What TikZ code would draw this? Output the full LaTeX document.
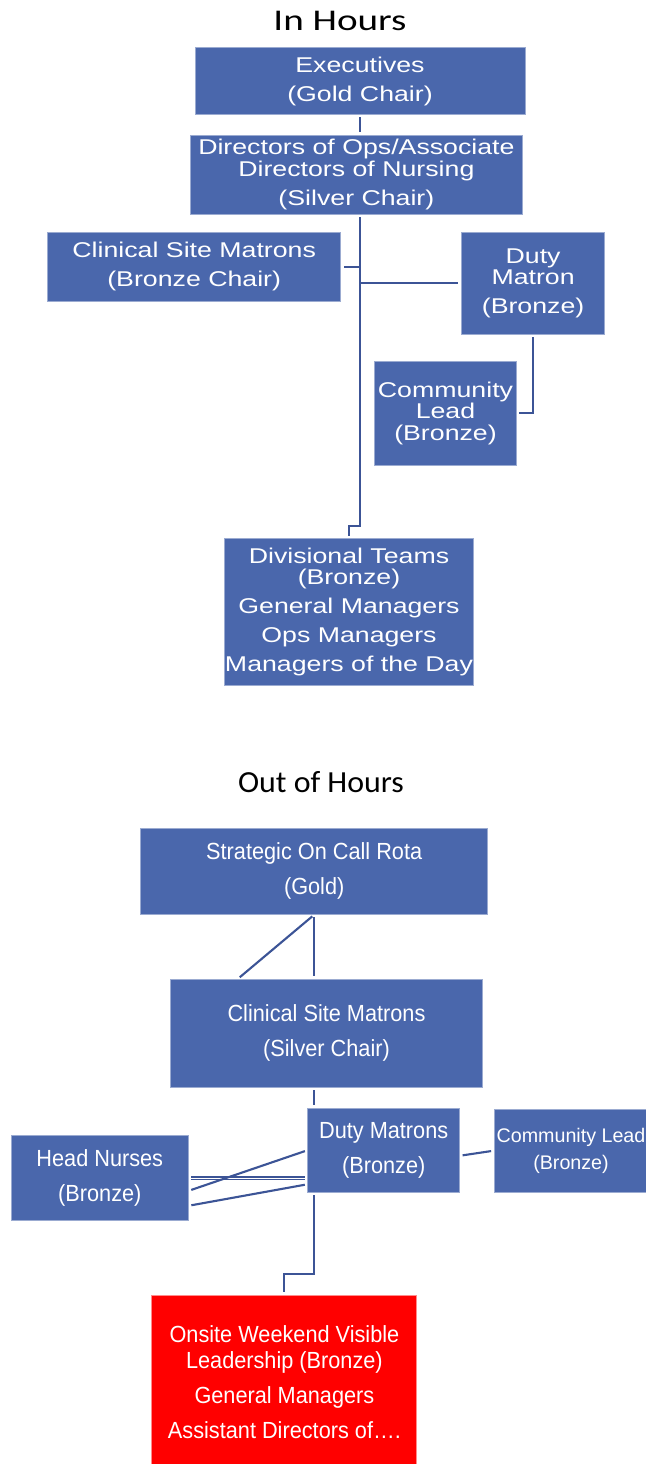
\documentclass[tikz,border=0pt]{standalone}
\usepackage{fontspec}
\setmainfont{Liberation Sans}
\newfontfamily\widefont{Liberation Sans}[FakeStretch=1.25]
\newfontfamily\narrowfont{Liberation Sans}[FakeStretch=0.93]
\newfontfamily\titlefont{Carlito}[FakeStretch=1.04]
\newfontfamily\widetitlefont{Carlito}[FakeStretch=1.3]

\definecolor{boxblue}{RGB}{74,103,172}
\definecolor{linkblue}{RGB}{60,84,150}
\definecolor{alertred}{RGB}{255,0,0}

\newlength\px
\setlength\px{0.025cm}

\tikzset{
  unit/.style={rectangle, fill=boxblue, draw=boxblue!55!white, line width=0.6pt,
    text=white, align=center, inner sep=0pt},
  dayunit/.style={unit, font=\widefont\fontsize{15.2}{15.3}\selectfont},
  nightunit/.style={unit, font=\narrowfont\fontsize{16.6}{18.5}\selectfont},
  link/.style={draw=linkblue, line width=1.5pt},
  gap/.style={shorten <=2.5\px, shorten >=2.5\px},
}

\begin{document}
\begin{tikzpicture}[x=0.025cm, y=-0.025cm]
    \useasboundingbox (0,0) rectangle (645,1464);

    % in hours
    \node[anchor=base, font=\widetitlefont\fontsize{21.4}{21.4}\selectfont] (inhours) at (340,30.7) {In Hours};
    \node[dayunit, minimum width=330\px, minimum height=66.7\px] (exec) at (360,81) {Executives\\[5.3pt](Gold Chair)};
    \node[dayunit, minimum width=331.7\px, minimum height=79.3\px] (dirops) at (356.4,174.7) {Directors of Ops/Associate\\Directors of Nursing\\[5.3pt](Silver Chair)};
    \node[dayunit, minimum width=293\px, minimum height=68.3\px] (sitemat) at (194.2,266.8) {Clinical Site Matrons\\[5.3pt](Bronze Chair)};
    \node[dayunit, minimum width=142.8\px, minimum height=101.7\px] (dutymat) at (533.1,283.5) {Duty\\Matron\\[5.3pt](Bronze)};
    \node[dayunit, minimum width=142\px, minimum height=104.3\px] (commlead) at (445.5,413.2) {Community\\Lead\\(Bronze)};
    \node[dayunit, minimum width=248.6\px, minimum height=146.7\px] (divteams) at (349,612) {Divisional Teams\\(Bronze)\\[5.3pt]General Managers\\[5.3pt]Ops Managers\\[5.3pt]Managers of the Day};
    \coordinate (jog) at (0,526);

    \draw[link, gap] (exec.south) -- (exec.south |- dirops.north);
    \draw[link, gap] (exec.south |- dirops.south) -- (exec.south |- jog) -| (divteams.north);
    \draw[link, shorten <=3\px] (sitemat.east) -- (sitemat.east -| exec.south);
    \draw[link, shorten >=3\px] ([yshift=0.3\px]exec.south |- dutymat.west) -- ([yshift=0.3\px]dutymat.west);
    \draw[link, gap] (dutymat.south) |- (commlead.east);

    % out of hours
    \node[anchor=base, font=\titlefont\fontsize{21.8}{21.8}\selectfont] (outhours) at (321,792.7) {Out of Hours};
    \node[nightunit, minimum width=347\px, minimum height=86\px] (strategic) at (314.2,871.3) {Strategic On Call Rota\\[6.4pt](Gold)};
    \node[nightunit, minimum width=311.5\px, minimum height=108\px] (sitesilver) at (326.5,1033.3) {Clinical Site Matrons\\[6.4pt](Silver Chair)};
    \node[nightunit, minimum width=152\px, minimum height=84\px] (dutymats) at (383.7,1150.3) {Duty Matrons\\[6.4pt](Bronze)};
    \node[nightunit, minimum width=177.4\px, minimum height=84.6\px] (headnurse) at (99.8,1178) {Head Nurses\\[6.4pt](Bronze)};
    \node[nightunit, font=\fontsize{14}{19}\selectfont, minimum width=154\px, minimum height=83.3\px] (commleadb) at (571,1150.7) {Community Lead\\(Bronze)};
    \node[nightunit, fill=alertred, draw=alertred!45!white, minimum width=265\px, minimum height=174\px] (weekend) at (284.4,1382) {Onsite Weekend Visible\\Leadership (Bronze)\\[6.4pt]General Managers\\[6.4pt]Assistant Directors of….};
    \coordinate (elbow) at (0,1274);

    \draw[link, gap] (strategic.south) -- (strategic.south |- sitesilver.north);
    \draw[link, gap] (strategic.south) -- ([xshift=67.5\px]sitesilver.north west);
    \draw[link, gap] (strategic.south |- sitesilver.south) -- (strategic.south |- dutymats.north);
    \draw[link, gap] (strategic.south |- dutymats.south) -- (strategic.south |- elbow) -| (weekend.north);
    \draw[link, gap, line width=0.8pt, double distance=0.7pt] (headnurse.east) -- (headnurse.east -| dutymats.west);
    \draw[link, gap] ([yshift=-12.7\px]headnurse.east) -- (dutymats.west);
    \draw[link, gap] ([yshift=-27.7\px]headnurse.east) -- ([yshift=-34\px]dutymats.west);
    \draw[link, gap] ([yshift=-5.4\px]dutymats.east) -- (commleadb.west);
\end{tikzpicture}
\end{document}
